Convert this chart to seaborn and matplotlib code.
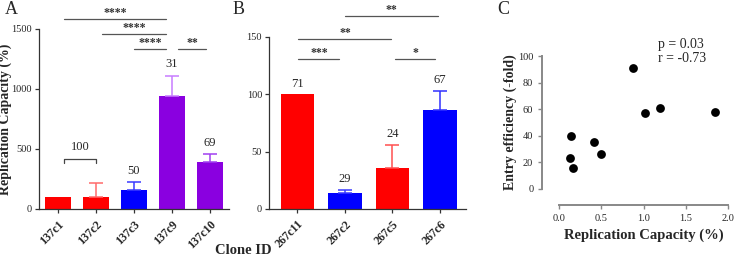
import matplotlib
matplotlib.use('Agg')
import matplotlib.pyplot as plt
import numpy as np
import seaborn as sns

# Painel A
clones_a = ['137c1', '137c2', '137c3', '137c9', '137c10']
valores_a = [100, 100, 160, 940, 395]
erros_a = [0, 115, 65, 170, 60]
cores_a = ['#ff0000', '#ff0000', '#0000ff', '#8a00e0', '#8a00e0']
cores_erro_a = ['#ff6b6b', '#ff6b6b', '#3a3aff', '#c77cff', '#a040f0']
numeros_a = ['', '', '50', '31', '69']

# Painel B
clones_b = ['267c11', '267c2', '267c5', '267c6']
valores_b = [100, 14, 36, 86]
erros_b = [0, 2.5, 20, 17]
cores_b = ['#ff0000', '#0000ff', '#ff0000', '#0000ff']
cores_erro_b = ['#ff6b6b', '#3a3aff', '#ff5050', '#3030ff']
numeros_b = ['71', '29', '24', '67']

# Painel C
replicacao = [0.13, 0.14, 0.16, 0.42, 0.50, 0.88, 1.02, 1.19, 1.85]
entrada = [23, 40, 16, 35, 26, 91, 57, 61, 58]

sns.set_style('ticks')
plt.rcParams['font.family'] = ['Liberation Serif', 'DejaVu Serif']
plt.rcParams['axes.edgecolor'] = '#333333'
plt.rcParams['axes.linewidth'] = 0.9

fig = plt.figure(figsize=(7.34, 2.57), dpi=100)
W, H = 734, 257


def eixo(x0, x1, ytop, ybot):
    return fig.add_axes([x0 / W, 1 - ybot / H, (x1 - x0) / W, (ybot - ytop) / H])


def barras(ax, clones, valores, erros, cores, cores_erro, largura):
    sns.barplot(x=clones, y=valores, hue=clones, palette=cores, legend=False,
                ax=ax, width=largura, saturation=1, linewidth=0)
    for i, (v, e, c) in enumerate(zip(valores, erros, cores_erro)):
        if e > 0:
            ax.errorbar(i, v, yerr=[[0], [e]], color=c, capsize=5, lw=1.1,
                        capthick=1.1, fmt='none')
    sns.despine(ax=ax)
    ax.tick_params(axis='both', length=3, width=0.9, color='#333333')
    ax.tick_params(axis='y', pad=2)
    plt.setp(ax.get_xticklabels(), rotation=45, ha='right', rotation_mode='anchor',
             fontweight='bold', fontsize=8.5)
    plt.setp(ax.get_yticklabels(), fontsize=7.5)


def sig(ax, x0, x1, y, txt):
    ax.plot([x0, x1], [y, y], color='#555555', lw=0.9, clip_on=False)
    ax.text((x0 + x1) / 2, y, txt, ha='center', va='bottom', fontsize=8.5,
            fontweight='bold', color='#333333', clip_on=False)


# ---- A ----
ax_a = eixo(39, 229, 29, 209)
barras(ax_a, clones_a, valores_a, erros_a, cores_a, cores_erro_a, 0.68)
ax_a.set_xlim(-0.5, 4.5)
ax_a.set_ylim(0, 1500)
ax_a.set_yticks([0, 500, 1000, 1500])
ax_a.set_ylabel('Replication Capacity (%)', fontweight='bold', fontsize=10)
ax_a.yaxis.set_label_coords(-0.142, 0.5)
for i, (v, e, n) in enumerate(zip(valores_a, erros_a, numeros_a)):
    if n:
        ax_a.text(i, v + e + 45, n, ha='center', va='bottom', fontsize=9)
ax_a.plot([0.15, 0.15, 1.0, 1.0], [385, 420, 420, 385], color='#444444', lw=0.9)
ax_a.text(0.58, 470, '100', ha='center', va='bottom', fontsize=9)
sig(ax_a, 0.15, 2.85, 1580, '****')
sig(ax_a, 1.15, 2.85, 1455, '****')
sig(ax_a, 2.0, 2.85, 1330, '****')
sig(ax_a, 3.15, 3.9, 1330, '**')
ax_a.set_xlabel('')
fig.text(243 / W, 1 - 250 / H, 'Clone ID', ha='center', va='center',
         fontweight='bold', fontsize=10.5)
fig.text(5 / W, 1 - 9 / H, 'A', fontsize=13, va='center')

# ---- B ----
ax_b = eixo(269, 466, 37, 209)
barras(ax_b, clones_b, valores_b, erros_b, cores_b, cores_erro_b, 0.7)
ax_b.set_xlim(-0.6, 3.55)
ax_b.set_ylim(0, 150)
ax_b.set_yticks([0, 50, 100, 150])
for i, (v, e, n) in enumerate(zip(valores_b, erros_b, numeros_b)):
    ax_b.text(i, v + e + 4, n, ha='center', va='bottom', fontsize=9)
sig(ax_b, 1.0, 2.95, 168, '**')
sig(ax_b, 0.02, 1.98, 148, '**')
sig(ax_b, 0.02, 0.88, 131, '***')
sig(ax_b, 2.05, 2.9, 131, '*')
fig.text(233 / W, 1 - 9 / H, 'B', fontsize=13, va='center')

# ---- C ----
ax_c = eixo(559, 728, 56, 189)
sns.scatterplot(x=replicacao, y=entrada, ax=ax_c, color='black', s=40,
                edgecolor='black', linewidth=0, clip_on=False)
ax_c.set_xlim(0, 2)
ax_c.set_ylim(0, 100)
ax_c.set_xticks([0, 0.5, 1.0, 1.5, 2.0])
ax_c.set_xticklabels(['0.0', '0.5', '1.0', '1.5', '2.0'])
ax_c.set_yticks([0, 20, 40, 60, 80, 100])
sns.despine(ax=ax_c)
ax_c.spines['left'].set_position(('outward', 12))
ax_c.spines['bottom'].set_position(('outward', 11.5))
for s in ['left', 'bottom']:
    ax_c.spines[s].set_color('#888888')
    ax_c.spines[s].set_linewidth(1.4)
ax_c.tick_params(axis='both', length=3, width=1, color='#888888', labelsize=7.5)
ax_c.set_ylabel('Entry efficiency (-fold)', fontweight='bold', fontsize=10)
ax_c.yaxis.set_label_coords(-0.25, 0.5)
ax_c.set_xlabel('Replication Capacity (%)', fontweight='bold', fontsize=10.5)
ax_c.text(1.17, 109, 'p = 0.03', fontsize=10, va='center', clip_on=False)
ax_c.text(1.17, 98, 'r = -0.73', fontsize=10, va='center', clip_on=False)
fig.text(497 / W, 1 - 9 / H, 'C', fontsize=13, va='center')

fig.savefig('out.png', dpi=100)
